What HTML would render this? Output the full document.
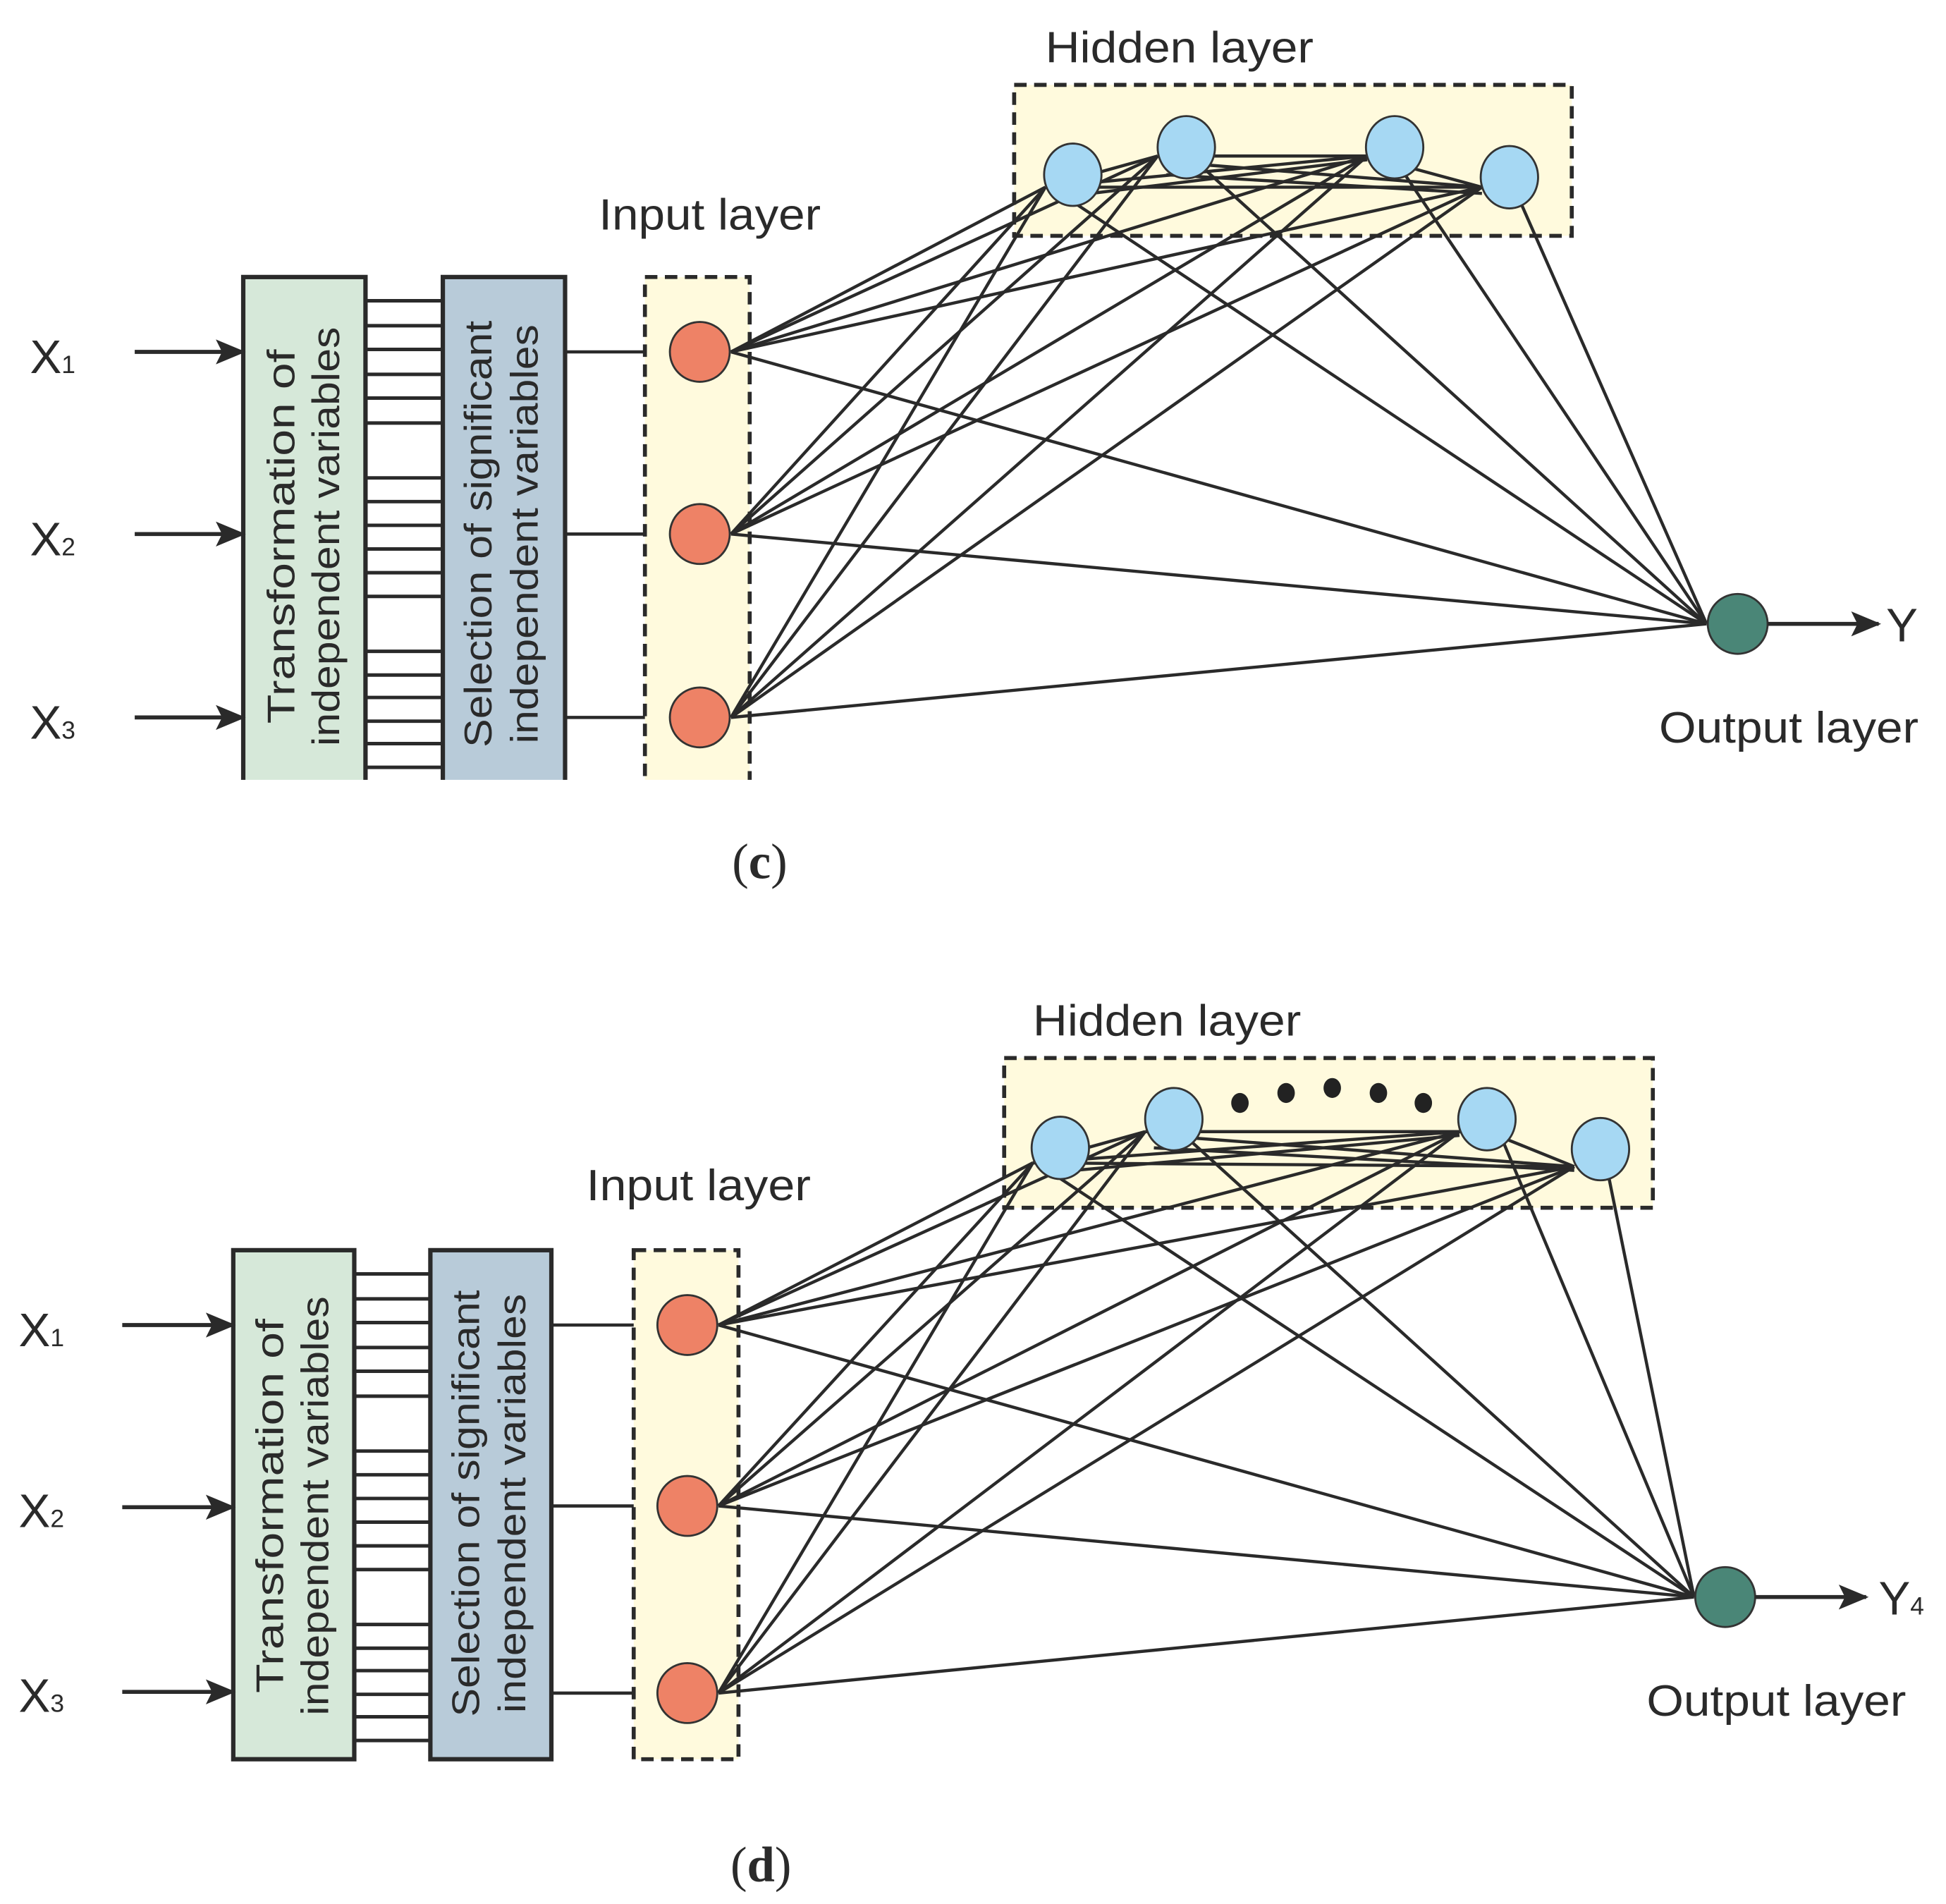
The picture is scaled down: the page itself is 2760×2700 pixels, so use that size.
<!DOCTYPE html>
<html><head><meta charset="utf-8"><style>
html,body{margin:0;padding:0;background:#fff;}
svg{display:block;}
text{font-family:"Liberation Sans",sans-serif;fill:#2a2a2a;}
</style></head><body>
<svg width="2760" height="2700" viewBox="0 0 1560 1526" xmlns="http://www.w3.org/2000/svg">
<defs>
<marker id="ar" markerWidth="24" markerHeight="20" refX="22" refY="10" orient="auto" markerUnits="userSpaceOnUse" viewBox="0 0 24 20">
<path d="M0,0 L24,10 L0,20 L5,10 Z" fill="#2a2a2a"/></marker>
<clipPath id="topclip"><rect x="0" y="0" width="1560" height="625"/></clipPath>
</defs>

<!-- ================= PANEL C ================= -->
<g clip-path="url(#topclip)">
<g stroke="#2a2a2a" stroke-width="2.8">
<line x1="293" y1="241" x2="355" y2="241"/><line x1="293" y1="261" x2="355" y2="261"/><line x1="293" y1="280" x2="355" y2="280"/><line x1="293" y1="300" x2="355" y2="300"/><line x1="293" y1="319" x2="355" y2="319"/><line x1="293" y1="339" x2="355" y2="339"/>
<line x1="293" y1="383" x2="355" y2="383"/><line x1="293" y1="402" x2="355" y2="402"/><line x1="293" y1="421" x2="355" y2="421"/><line x1="293" y1="440" x2="355" y2="440"/><line x1="293" y1="459" x2="355" y2="459"/><line x1="293" y1="478" x2="355" y2="478"/>
<line x1="293" y1="522" x2="355" y2="522"/><line x1="293" y1="541" x2="355" y2="541"/><line x1="293" y1="559" x2="355" y2="559"/><line x1="293" y1="578" x2="355" y2="578"/><line x1="293" y1="596" x2="355" y2="596"/><line x1="293" y1="615" x2="355" y2="615"/>
</g>
<rect x="195" y="222" width="98" height="420" fill="#d6e8d9" stroke="#2a2a2a" stroke-width="3.5"/>
<rect x="355" y="222" width="98" height="420" fill="#b8cbd9" stroke="#2a2a2a" stroke-width="3.5"/>
<text transform="translate(236,430) rotate(-90)" font-size="31" text-anchor="middle" textLength="300" lengthAdjust="spacingAndGlyphs">Transformation of</text>
<text transform="translate(272,430) rotate(-90)" font-size="31" text-anchor="middle" textLength="336" lengthAdjust="spacingAndGlyphs">independent variables</text>
<text transform="translate(394,428) rotate(-90)" font-size="31" text-anchor="middle" textLength="342" lengthAdjust="spacingAndGlyphs">Selection of significant</text>
<text transform="translate(431,428) rotate(-90)" font-size="31" text-anchor="middle" textLength="336" lengthAdjust="spacingAndGlyphs">independent variables</text>
<rect x="517" y="222" width="84" height="420" fill="#fffadd" stroke="#2a2a2a" stroke-width="3.2" stroke-dasharray="10,6"/>
<g stroke="#2a2a2a" stroke-width="2.6">
<line x1="453" y1="282" x2="517" y2="282"/><line x1="453" y1="428" x2="517" y2="428"/><line x1="453" y1="575" x2="517" y2="575"/>
</g>
</g>
<g stroke="#2a2a2a" stroke-width="3.2">
<line x1="108" y1="282" x2="195" y2="282" marker-end="url(#ar)"/>
<line x1="108" y1="428" x2="195" y2="428" marker-end="url(#ar)"/>
<line x1="108" y1="575" x2="195" y2="575" marker-end="url(#ar)"/>
</g>
<text x="24" y="299" font-size="38">X<tspan font-size="20">1</tspan></text>
<text x="24" y="445" font-size="38">X<tspan font-size="20">2</tspan></text>
<text x="24" y="592" font-size="38">X<tspan font-size="20">3</tspan></text>

<rect x="813" y="68" width="447" height="121" fill="#fffadd" stroke="#2a2a2a" stroke-width="3.2" stroke-dasharray="10,6"/>
<text x="838" y="50" font-size="35" textLength="215" lengthAdjust="spacingAndGlyphs">Hidden layer</text>
<text x="480" y="184" font-size="35" textLength="178" lengthAdjust="spacingAndGlyphs">Input layer</text>

<g stroke="#2a2a2a" stroke-width="2.5" fill="none">
<line x1="586" y1="282" x2="838" y2="150"/><line x1="586" y1="282" x2="928" y2="125"/><line x1="586" y1="282" x2="1096" y2="125"/><line x1="586" y1="282" x2="1188" y2="150"/>
<line x1="586" y1="428" x2="838" y2="150"/><line x1="586" y1="428" x2="928" y2="125"/><line x1="586" y1="428" x2="1096" y2="125"/><line x1="586" y1="428" x2="1188" y2="150"/>
<line x1="586" y1="575" x2="838" y2="150"/><line x1="586" y1="575" x2="928" y2="125"/><line x1="586" y1="575" x2="1096" y2="125"/><line x1="586" y1="575" x2="1188" y2="150"/>
<line x1="586" y1="282" x2="1368" y2="500"/><line x1="586" y1="428" x2="1368" y2="500"/><line x1="586" y1="575" x2="1368" y2="500"/>
<line x1="850" y1="155" x2="1368" y2="500"/><line x1="965" y1="135" x2="1368" y2="500"/><line x1="1125" y1="138" x2="1368" y2="500"/><line x1="1218" y1="160" x2="1368" y2="500"/>
<line x1="838" y1="150" x2="928" y2="125"/><line x1="838" y1="150" x2="1096" y2="125"/><line x1="838" y1="150" x2="1188" y2="150"/>
<line x1="928" y1="125" x2="1096" y2="125"/><line x1="965" y1="132" x2="1188" y2="150"/><line x1="1096" y1="125" x2="1188" y2="150"/>
<line x1="850" y1="158" x2="1096" y2="128"/><line x1="935" y1="140" x2="1188" y2="155"/>
</g>
<g stroke="#333" stroke-width="1.6">
<circle cx="561" cy="282" r="24" fill="#ee8266"/><circle cx="561" cy="428" r="24" fill="#ee8266"/><circle cx="561" cy="575" r="24" fill="#ee8266"/>
<ellipse cx="860" cy="140" rx="23" ry="25" fill="#a6d8f3"/><ellipse cx="951" cy="118" rx="23" ry="25" fill="#a6d8f3"/><ellipse cx="1118" cy="118" rx="23" ry="25" fill="#a6d8f3"/><ellipse cx="1210" cy="142" rx="23" ry="25" fill="#a6d8f3"/>
<circle cx="1393" cy="500" r="24" fill="#4a8677"/>
</g>
<line x1="1417" y1="500" x2="1506" y2="500" stroke="#2a2a2a" stroke-width="3.2" marker-end="url(#ar)"/>
<text x="1512" y="514" font-size="38">Y</text>
<text x="1330" y="595" font-size="35" textLength="208" lengthAdjust="spacingAndGlyphs">Output layer</text>
<text x="609" y="704" font-size="40" text-anchor="middle" style="font-family:'Liberation Serif',serif">(<tspan font-weight="bold">c</tspan>)</text>

<!-- ================= PANEL D ================= -->
<g stroke="#2a2a2a" stroke-width="2.8">
<line x1="284" y1="1021" x2="345" y2="1021"/><line x1="284" y1="1041" x2="345" y2="1041"/><line x1="284" y1="1060" x2="345" y2="1060"/><line x1="284" y1="1080" x2="345" y2="1080"/><line x1="284" y1="1099" x2="345" y2="1099"/><line x1="284" y1="1119" x2="345" y2="1119"/>
<line x1="284" y1="1163" x2="345" y2="1163"/><line x1="284" y1="1182" x2="345" y2="1182"/><line x1="284" y1="1201" x2="345" y2="1201"/><line x1="284" y1="1220" x2="345" y2="1220"/><line x1="284" y1="1239" x2="345" y2="1239"/><line x1="284" y1="1258" x2="345" y2="1258"/>
<line x1="284" y1="1302" x2="345" y2="1302"/><line x1="284" y1="1321" x2="345" y2="1321"/><line x1="284" y1="1339" x2="345" y2="1339"/><line x1="284" y1="1358" x2="345" y2="1358"/><line x1="284" y1="1376" x2="345" y2="1376"/><line x1="284" y1="1395" x2="345" y2="1395"/>
</g>
<rect x="187" y="1002" width="97" height="408" fill="#d6e8d9" stroke="#2a2a2a" stroke-width="3.5"/>
<rect x="345" y="1002" width="97" height="408" fill="#b8cbd9" stroke="#2a2a2a" stroke-width="3.5"/>
<text transform="translate(227,1207) rotate(-90)" font-size="31" text-anchor="middle" textLength="300" lengthAdjust="spacingAndGlyphs">Transformation of</text>
<text transform="translate(263,1207) rotate(-90)" font-size="31" text-anchor="middle" textLength="336" lengthAdjust="spacingAndGlyphs">independent variables</text>
<text transform="translate(384,1205) rotate(-90)" font-size="31" text-anchor="middle" textLength="342" lengthAdjust="spacingAndGlyphs">Selection of significant</text>
<text transform="translate(421,1205) rotate(-90)" font-size="31" text-anchor="middle" textLength="336" lengthAdjust="spacingAndGlyphs">independent variables</text>
<rect x="508" y="1002" width="84" height="408" fill="#fffadd" stroke="#2a2a2a" stroke-width="3.2" stroke-dasharray="10,6"/>
<g stroke="#2a2a2a" stroke-width="2.6">
<line x1="442" y1="1062" x2="508" y2="1062"/><line x1="442" y1="1207" x2="508" y2="1207"/><line x1="442" y1="1357" x2="508" y2="1357"/>
</g>
<g stroke="#2a2a2a" stroke-width="3.2">
<line x1="98" y1="1062" x2="187" y2="1062" marker-end="url(#ar)"/>
<line x1="98" y1="1208" x2="187" y2="1208" marker-end="url(#ar)"/>
<line x1="98" y1="1356" x2="187" y2="1356" marker-end="url(#ar)"/>
</g>
<text x="15" y="1079" font-size="38">X<tspan font-size="20">1</tspan></text>
<text x="15" y="1224" font-size="38">X<tspan font-size="20">2</tspan></text>
<text x="15" y="1372" font-size="38">X<tspan font-size="20">3</tspan></text>

<rect x="805" y="848" width="520" height="120" fill="#fffadd" stroke="#2a2a2a" stroke-width="3.2" stroke-dasharray="10,6"/>
<text x="828" y="830" font-size="35" textLength="215" lengthAdjust="spacingAndGlyphs">Hidden layer</text>
<text x="470" y="962" font-size="35" textLength="180" lengthAdjust="spacingAndGlyphs">Input layer</text>
<g fill="#222">
<ellipse cx="994" cy="884" rx="7" ry="8"/><ellipse cx="1031" cy="876" rx="7" ry="8"/><ellipse cx="1068" cy="872" rx="7" ry="8"/><ellipse cx="1105" cy="876" rx="7" ry="8"/><ellipse cx="1141" cy="884" rx="7" ry="8"/>
</g>

<g stroke="#2a2a2a" stroke-width="2.5" fill="none">
<line x1="576" y1="1062" x2="828" y2="932"/><line x1="576" y1="1062" x2="918" y2="907"/><line x1="576" y1="1062" x2="1170" y2="907"/><line x1="576" y1="1062" x2="1262" y2="935"/>
<line x1="576" y1="1207" x2="828" y2="932"/><line x1="576" y1="1207" x2="918" y2="907"/><line x1="576" y1="1207" x2="1170" y2="907"/><line x1="576" y1="1207" x2="1262" y2="935"/>
<line x1="576" y1="1357" x2="828" y2="932"/><line x1="576" y1="1357" x2="918" y2="907"/><line x1="576" y1="1357" x2="1170" y2="907"/><line x1="576" y1="1357" x2="1262" y2="935"/>
<line x1="576" y1="1062" x2="1358" y2="1280"/><line x1="576" y1="1207" x2="1358" y2="1280"/><line x1="576" y1="1357" x2="1358" y2="1280"/>
<line x1="840" y1="938" x2="1358" y2="1280"/><line x1="955" y1="915" x2="1358" y2="1280"/><line x1="1205" y1="915" x2="1358" y2="1280"/><line x1="1290" y1="945" x2="1358" y2="1280"/>
<line x1="828" y1="932" x2="918" y2="907"/><line x1="828" y1="932" x2="1170" y2="907"/><line x1="828" y1="932" x2="1262" y2="935"/>
<line x1="918" y1="907" x2="1170" y2="907"/><line x1="955" y1="912" x2="1262" y2="935"/><line x1="1205" y1="912" x2="1262" y2="935"/>
<line x1="840" y1="940" x2="1170" y2="910"/><line x1="925" y1="920" x2="1262" y2="938"/>
</g>
<g stroke="#333" stroke-width="1.6">
<circle cx="551" cy="1062" r="24" fill="#ee8266"/><circle cx="551" cy="1207" r="24" fill="#ee8266"/><circle cx="551" cy="1357" r="24" fill="#ee8266"/>
<ellipse cx="850" cy="920" rx="23" ry="25" fill="#a6d8f3"/><ellipse cx="941" cy="897" rx="23" ry="25" fill="#a6d8f3"/><ellipse cx="1192" cy="897" rx="23" ry="25" fill="#a6d8f3"/><ellipse cx="1283" cy="921" rx="23" ry="25" fill="#a6d8f3"/>
<circle cx="1383" cy="1280" r="24" fill="#4a8677"/>
</g>
<line x1="1407" y1="1280" x2="1496" y2="1280" stroke="#2a2a2a" stroke-width="3.2" marker-end="url(#ar)"/>
<text x="1506" y="1294" font-size="38">Y<tspan font-size="20">4</tspan></text>
<text x="1320" y="1375" font-size="35" textLength="208" lengthAdjust="spacingAndGlyphs">Output layer</text>
<text x="610" y="1508" font-size="40" text-anchor="middle" style="font-family:'Liberation Serif',serif">(<tspan font-weight="bold">d</tspan>)</text>
</svg>
</body></html>
